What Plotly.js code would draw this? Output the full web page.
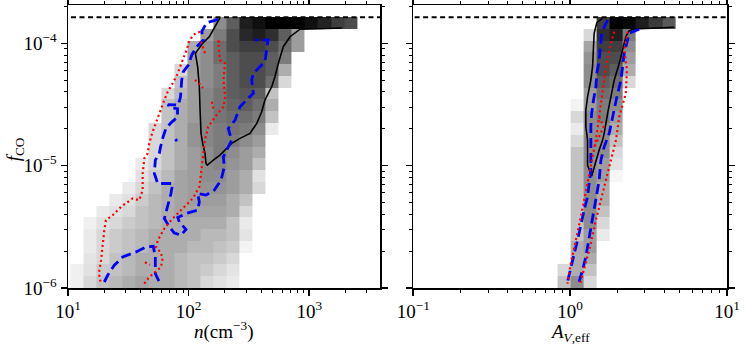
<!DOCTYPE html>
<html>
<head>
<meta charset="utf-8">
<script src="https://cdn.plot.ly/plotly-3.0.1.min.js"></script>
<style>
  html, body { margin: 0; padding: 0; background: #fff; }
  #chart { width: 747px; height: 344px; }
</style>
</head>
<body>
<div id="chart"></div>
<script>
// histogram bins (log10 space)
var densEdgeStart = 1.02, densBinWidth = 0.108, densBins = 22;
var avEdgeStart = -0.080, avBinWidth = 0.0833, avBins = 9;
var fcoEdgeStart = -6.0, fcoBinWidth = 0.0963, fcoBins = 23;

var n = null;
// gray level per cell (0 white .. 100 black), rows from bottom (f_CO = 1e-6) to top
var densCounts = [
  [5,13,20,23,27,30,27,27,23,20,13,10,7, n,n,n,n,n,n,n,n,n],
  [5,10,17,20,23,27,27,27,23,20,17,13,9, n,n,n,n,n,n,n,n,n],
  [n,9,13,20,23,27,27,27,23,20,20,17,13, n,n,n,n,n,n,n,n,n],
  [n,7,13,17,20,23,27,27,27,23,23,20,17,4, n,n,n,n,n,n,n,n],
  [n,7,13,17,20,23,27,27,27,27,23,23,20,9, n,n,n,n,n,n,n,n],
  [n,5,10,13,17,20,23,27,27,27,27,27,20,7, n,n,n,n,n,n,n,n],
  [n,n,7,10,13,20,23,27,30,30,30,30,27,13, n,n,n,n,n,n,n,n],
  [n,n,n,7,10,17,23,27,30,33,33,33,27,20, n,n,n,n,n,n,n,n],
  [n,n,n,n,7,13,20,27,30,33,37,37,33,27,13, n,n,n,n,n,n,n],
  [n,n,n,n,n,10,17,23,30,33,40,40,33,27,10, n,n,n,n,n,n,n],
  [n,n,n,n,n,7,13,20,27,33,40,43,37,33,20, n,n,n,n,n,n,n],
  [n,n,n,n,n,n,13,20,27,33,40,47,40,33,27, n,n,n,n,n,n,n],
  [n,n,n,n,n,n,13,20,27,37,43,47,47,40,33, n,n,n,n,n,n,n],
  [n,n,n,n,n,n,13,20,27,37,43,47,50,47,40,7, n,n,n,n,n,n],
  [n,n,n,n,n,n,n,20,27,33,43,50,53,53,47,20, n,n,n,n,n,n],
  [n,n,n,n,n,n,n,20,27,33,43,50,57,60,53,27, n,n,n,n,n,n],
  [n,n,n,n,n,n,n,13,23,33,43,50,60,63,60,20, n,n,n,n,n,n],
  [n,n,n,n,n,n,n,n,20,33,40,47,60,67,67,53,13, n,n,n,n,n],
  [n,n,n,n,n,n,n,n,13,33,40,47,60,67,67,60,27, n,n,n,n,n],
  [n,n,n,n,n,n,n,n,n,33,40,53,60,67,67,60,47, n,n,n,n,n],
  [n,n,n,n,n,n,n,n,n,27,40,53,67,73,73,67,53,33, n,n,n,n],
  [n,n,n,n,n,n,n,n,n,n,33,47,67,83,87,80,60,33, n,n,n,n],
  [n,n,n,n,n,n,n,n,n,n,n,40,60,87,93,100,100,100,93,85,73,67]
];
var avCounts = [
  [20,40,13,n,n,n,n,n,n],
  [13,27,20,n,n,n,n,n,n],
  [n,27,27,n,n,n,n,n,n],
  [n,27,33,n,n,n,n,n,n],
  [n,20,33,7,n,n,n,n,n],
  [n,20,40,13,n,n,n,n,n],
  [n,20,40,20,n,n,n,n,n],
  [n,20,40,27,n,n,n,n,n],
  [n,20,40,27,n,n,n,n,n],
  [n,20,40,33,3,n,n,n,n],
  [n,20,40,33,10,n,n,n,n],
  [n,20,40,40,13,n,n,n,n],
  [n,13,40,40,20,n,n,n,n],
  [n,7,40,40,27,n,n,n,n],
  [n,13,40,47,33,n,n,n,n],
  [n,4,33,47,40,n,n,n,n],
  [n,n,33,53,47,n,n,n,n],
  [n,n,40,60,53,13,n,n,n],
  [n,n,40,67,60,27,n,n,n],
  [n,n,37,67,67,33,n,n,n],
  [n,n,30,73,73,40,n,n,n],
  [n,n,13,80,87,47,n,n,n],
  [n,n,n,73,100,97,87,75,62]
];

var fcoMax = 1.63e-4;

// contour lines, log10 values
var blackDensX = [2.260,2.200,2.172,2.117,2.056,2.075,2.089,2.095,2.103,2.117,2.136,2.144,2.155,2.205,2.260,2.357,2.426,2.509,2.565,2.606,2.633,2.689,2.716,2.744,2.785,2.841,2.924,3.090,3.270];
var blackDensY = [-3.793,-3.891,-3.946,-4.000,-4.082,-4.191,-4.355,-4.546,-4.737,-4.818,-4.900,-4.982,-4.996,-4.955,-4.914,-4.818,-4.777,-4.736,-4.655,-4.560,-4.464,-4.355,-4.273,-4.164,-4.028,-3.946,-3.885,-3.881,-3.875];

var blueDensX = [2.246,2.150,2.109,2.122,2.067,2.026,1.998,1.956,1.943,1.933,1.915,1.829,1.846,1.908,1.908,1.860,1.813,1.788,1.767,1.757,1.724,1.716,1.744,1.868,1.854,1.827,1.799,1.840,1.881,1.937,1.978,1.923,1.910,1.978,2.075,2.089,2.075,2.144,2.213,2.269,2.296,2.288,2.316,2.357,2.329,2.385,2.426,2.537,2.523,2.537,2.633,2.648,2.658,2.551];
var blueDensY = [-3.804,-3.831,-3.905,-3.973,-4.028,-4.096,-4.178,-4.232,-4.300,-4.437,-4.505,-4.501,-4.525,-4.534,-4.603,-4.644,-4.693,-4.767,-4.849,-4.900,-4.955,-5.064,-5.146,-5.146,-5.228,-5.337,-5.432,-5.501,-5.550,-5.569,-5.522,-5.460,-5.424,-5.391,-5.364,-5.296,-5.228,-5.241,-5.200,-5.118,-5.010,-4.928,-4.873,-4.792,-4.696,-4.628,-4.519,-4.409,-4.300,-4.245,-4.151,-4.055,-3.973,-3.973];
var blueArchX = [1.301,1.329,1.384,1.454,1.564,1.647,1.707,1.724,1.724,1.757];
var blueArchY = [-5.951,-5.896,-5.814,-5.746,-5.705,-5.664,-5.659,-5.746,-5.882,-5.951];
var blueDotX = [1.891,1.904];
var blueDotY = [-4.783,-4.800];

var redOuterX = [2.095,2.036,2.003,1.984,1.956,1.929,1.904,1.868,1.827,1.799,1.757,1.730,1.697,1.674,1.661,1.633,1.619,1.619,1.591,1.536,1.495,1.439,1.371,1.315,1.301,1.288,1.274,1.260,1.260,1.274];
var redOuterY = [-3.905,-3.932,-3.989,-4.055,-4.123,-4.191,-4.259,-4.327,-4.396,-4.464,-4.573,-4.655,-4.736,-4.818,-4.900,-4.941,-5.064,-5.200,-5.282,-5.268,-5.296,-5.337,-5.405,-5.446,-5.528,-5.664,-5.773,-5.855,-5.910,-5.964];
var redInnerX = [1.633,1.674,1.724,1.771,1.785,1.765,1.730,1.744,1.799,1.868,1.951,2.034,2.089,2.103,2.117,2.122,2.136,2.163,2.219,2.289,2.303,2.289,2.302,2.260,2.246,2.246,2.288];
var redInnerY = [-5.964,-5.910,-5.869,-5.828,-5.759,-5.705,-5.669,-5.610,-5.514,-5.432,-5.350,-5.268,-5.173,-5.064,-4.955,-4.873,-4.792,-4.682,-4.601,-4.519,-4.437,-4.300,-4.164,-4.137,-4.028,-3.987,-3.987];
var redBitsX = [[1.638,1.680],[2.053,2.086,2.119],[2.103,2.119,2.136],[2.192,2.205]];
var redBitsY = [[-5.790,-5.810],[-4.300,-4.325,-4.366],[-3.987,-4.030,-4.082],[-4.478,-4.532]];

var blackAvX = [0.207,0.170,0.153,0.147,0.143,0.132,0.111,0.100,0.100,0.111,0.111,0.111,0.137,0.164,0.185,0.207,0.217,0.239,0.264,0.281,0.313,0.334,0.355,0.377,0.408,0.664];
var blackAvY = [-3.795,-3.831,-3.918,-4.055,-4.191,-4.300,-4.437,-4.546,-4.682,-4.791,-4.900,-4.996,-5.086,-4.955,-4.873,-4.791,-4.736,-4.573,-4.409,-4.300,-4.164,-4.055,-3.946,-3.897,-3.883,-3.869];
var blueAvLeftX = [0.239,0.217,0.200,0.191,0.185,0.170,0.164,0.149,0.137,0.132,0.132,0.128,0.132,0.121,0.111,0.089,0.068,0.047,0.026,0.004,-0.017];
var blueAvLeftY = [-3.809,-3.869,-3.932,-4.028,-4.137,-4.245,-4.355,-4.464,-4.573,-4.682,-4.791,-4.900,-5.037,-5.146,-5.255,-5.364,-5.501,-5.610,-5.718,-5.828,-5.951];
var blueAvRightX = [0.440,0.377,0.345,0.334,0.324,0.298,0.281,0.260,0.249,0.217,0.196,0.185,0.164,0.143,0.121,0.100,0.079,0.057];
var blueAvRightY = [-3.885,-3.918,-4.082,-4.191,-4.300,-4.437,-4.546,-4.655,-4.736,-4.846,-4.955,-5.119,-5.282,-5.446,-5.610,-5.746,-5.855,-5.951];
var redAvLeftX = [0.281,0.260,0.228,0.207,0.185,0.164,0.132,0.100,0.068,0.036,0.004,-0.017];
var redAvLeftY = [-3.905,-4.000,-4.191,-4.409,-4.601,-4.791,-5.010,-5.228,-5.419,-5.610,-5.800,-5.964];
var redAvRightX = [0.366,0.345,0.362,0.355,0.313,0.292,0.260,0.228,0.196,0.164,0.132,0.094,0.064];
var redAvRightY = [-3.905,-4.055,-4.218,-4.409,-4.601,-4.791,-4.955,-5.119,-5.282,-5.446,-5.637,-5.828,-5.964];
var redAvBitX = [0.185,0.213,0.175,0.153];
var redAvBitY = [-4.601,-4.682,-4.791,-4.846];

function edges(start, w, count) {
  var out = [];
  for (var i = 0; i <= count; i++) out.push(Math.pow(10, start + i * w));
  return out;
}
function p10(arr) { return arr.map(function (v) { return Math.pow(10, v); }); }

var greys = [[0, '#ffffff'], [0.3, '#a4a4a4'], [1, '#000000']];
var data = [];

data.push({
  type: 'heatmap', x: edges(densEdgeStart, densBinWidth, densBins),
  y: edges(fcoEdgeStart, fcoBinWidth, fcoBins), z: densCounts,
  colorscale: greys, zmin: 0, zmax: 100, showscale: false, hoverinfo: 'skip',
  xaxis: 'x', yaxis: 'y'
});
data.push({
  type: 'heatmap', x: edges(avEdgeStart, avBinWidth, avBins),
  y: edges(fcoEdgeStart, fcoBinWidth, fcoBins), z: avCounts,
  colorscale: greys, zmin: 0, zmax: 100, showscale: false, hoverinfo: 'skip',
  xaxis: 'x2', yaxis: 'y2'
});

function line(xs, ys, ax, color, width, dash) {
  data.push({
    type: 'scatter', mode: 'lines', x: p10(xs), y: p10(ys),
    xaxis: ax[0], yaxis: ax[1], hoverinfo: 'skip', showlegend: false,
    line: { color: color, width: width, dash: dash }
  });
}

var L = ['x', 'y'], R = ['x2', 'y2'];
var blueDash = '10px,5px', redDot = '2px,3px';

line(blackDensX, blackDensY, L, '#000000', 1.6, 'solid');
line(blueDensX, blueDensY, L, '#0000ff', 2.8, blueDash);
line(blueArchX, blueArchY, L, '#0000ff', 2.8, blueDash);
line(blueDotX, blueDotY, L, '#0000ff', 2.8, 'solid');
line(redOuterX, redOuterY, L, '#ff0000', 2.2, redDot);
line(redInnerX, redInnerY, L, '#ff0000', 2.2, redDot);
redBitsX.forEach(function (xs, i) { line(xs, redBitsY[i], L, '#ff0000', 2.2, redDot); });

line(blackAvX, blackAvY, R, '#000000', 1.6, 'solid');
line(blueAvLeftX, blueAvLeftY, R, '#0000ff', 2.8, blueDash);
line(blueAvRightX, blueAvRightY, R, '#0000ff', 2.8, blueDash);
line(redAvLeftX, redAvLeftY, R, '#ff0000', 2.2, redDot);
line(redAvRightX, redAvRightY, R, '#ff0000', 2.2, redDot);
line(redAvBitX, redAvBitY, R, '#ff0000', 2.2, redDot);

// upper limit of f_CO
data.push({ type: 'scatter', mode: 'lines', x: [9, 5000], y: [fcoMax, fcoMax], xaxis: 'x', yaxis: 'y',
  hoverinfo: 'skip', line: { color: '#000', width: 2, dash: '5px,3.5px' } });
data.push({ type: 'scatter', mode: 'lines', x: [0.09, 11], y: [fcoMax, fcoMax], xaxis: 'x2', yaxis: 'y2',
  hoverinfo: 'skip', line: { color: '#000', width: 2, dash: '5px,3.5px' } });

function minorVals(lo, hi) {
  var out = [];
  for (var e = lo; e < hi; e++) for (var m = 2; m <= 9; m++) out.push(m * Math.pow(10, e));
  return out;
}

var serif = '"Liberation Serif", "Times New Roman", serif';
var tickFont = { family: serif, size: 19, color: '#000' };
var titleFont = { family: serif, size: 19, color: '#000' };
var baseAxis = {
  type: 'log', showline: true, linecolor: '#000', linewidth: 1.5, mirror: 'allticks',
  ticks: 'outside', ticklen: 6, tickwidth: 1.6, tickcolor: '#000', tickmode: 'array',
  showgrid: false, zeroline: false, tickfont: tickFont, fixedrange: true
};
function axis(extra) { return Object.assign({}, baseAxis, extra); }
var minorTicks = function (lo, hi) {
  return { ticks: 'outside', ticklen: 3, tickwidth: 1, tickcolor: '#000', tickmode: 'array', tickvals: minorVals(lo, hi) };
};

var layout = {
  width: 747, height: 344,
  margin: { l: 0, r: 0, t: 5, b: 56 },
  paper_bgcolor: '#fff', plot_bgcolor: '#fff',
  showlegend: false,
  font: { family: serif, size: 19, color: '#000' },
  xaxis: axis({
    domain: [68 / 747, 380 / 747], range: [1, 3.587], anchor: 'y',
    tickvals: [10, 100, 1000], ticktext: ['10<sup>1</sup>', '10<sup>2</sup>', '10<sup>3</sup>'],
    minor: minorTicks(1, 4)
  }),
  yaxis: axis({
    domain: [0, 1], range: [-6, -3.687], anchor: 'x',
    tickvals: [1e-6, 1e-5, 1e-4], ticktext: ['10<sup>−6</sup>', '10<sup>−5</sup>', '10<sup>−4</sup>'],
    minor: minorTicks(-6, -3)
  }),
  xaxis2: axis({
    domain: [413.3 / 747, 727 / 747], range: [-1, 1], anchor: 'y2',
    tickvals: [0.1, 1, 10], ticktext: ['10<sup>−1</sup>', '10<sup>0</sup>', '10<sup>1</sup>'],
    minor: minorTicks(-1, 1)
  }),
  yaxis2: axis({
    domain: [0, 1], range: [-6, -3.687], anchor: 'x2', showticklabels: false,
    tickvals: [1e-6, 1e-5, 1e-4],
    minor: minorTicks(-6, -3)
  }),
  annotations: [
    { text: '<i>n</i>(cm<sup>−3</sup>)', xref: 'paper', yref: 'paper', x: 224 / 747, y: -0.150,
      xanchor: 'center', yanchor: 'middle', showarrow: false, font: titleFont },
    { text: '<i>A</i><sub><i>V</i>,eff</sub>', xref: 'paper', yref: 'paper', x: 570 / 747, y: -0.158,
      xanchor: 'center', yanchor: 'middle', showarrow: false, font: titleFont },
    { text: '<i>f</i><sub>CO</sub>', xref: 'paper', yref: 'paper', x: 15 / 747, y: 0.49,
      xanchor: 'center', yanchor: 'middle', textangle: -90, showarrow: false, font: titleFont }
  ]
};

Plotly.newPlot('chart', data, layout, { staticPlot: true, displayModeBar: false });
</script>
</body>
</html>
